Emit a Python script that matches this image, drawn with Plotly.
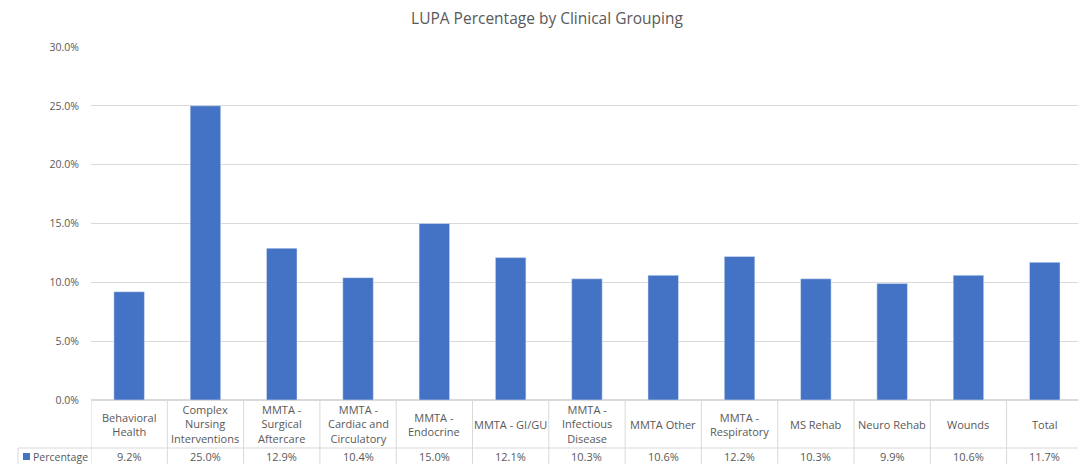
import plotly.graph_objects as go

categories = ["Behavioral Health", "Complex Nursing Interventions", "MMTA - Surgical Aftercare",
              "MMTA - Cardiac and Circulatory", "MMTA - Endocrine", "MMTA - GI/GU",
              "MMTA - Infectious Disease", "MMTA Other", "MMTA - Respiratory", "MS Rehab",
              "Neuro Rehab", "Wounds", "Total"]
table_labels = ["Behavioral<br>Health", "Complex<br>Nursing<br>Interventions", "MMTA -<br>Surgical<br>Aftercare",
                "MMTA -<br>Cardiac and<br>Circulatory", "MMTA -<br>Endocrine", "MMTA - GI/GU",
                "MMTA -<br>Infectious<br>Disease", "MMTA Other", "MMTA -<br>Respiratory", "MS Rehab",
                "Neuro Rehab", "Wounds", "Total"]
percentage = [0.092, 0.250, 0.129, 0.104, 0.150, 0.121, 0.103, 0.106, 0.122, 0.103, 0.099, 0.106, 0.117]
series_name = "Percentage"

W, H = 1078, 464
L, R, T, B = 91, 0, 47, 64
plot_w = W - L - R
plot_h = H - T - B
col_w = 76.3
n = len(categories)

FONT = "Open Sans"
TXT = "#595959"
GRID = "#d9d9d9"
BAR = "#4472C4"

def py(pix):
    # pixel y (from top) -> paper y
    return (H - B - pix) / plot_h

def px(pix):
    return (pix - L) / plot_w

x_idx = list(range(n))

fig = go.Figure(go.Bar(x=x_idx, y=percentage, marker_color=BAR, width=0.4, name=series_name,
                       hovertext=categories))

shapes = []
annotations = []
# vertical table lines
for i in range(n + 1):
    shapes.append(dict(type="line", xref="x", yref="paper", x0=i - 0.5, x1=i - 0.5,
                       y0=py(400), y1=py(470), line=dict(color=GRID, width=1)))
# horizontal table lines
shapes.append(dict(type="line", xref="paper", yref="paper", x0=px(18), x1=1.0,
                   y0=py(448), y1=py(448), line=dict(color=GRID, width=1)))
shapes.append(dict(type="line", xref="paper", yref="paper", x0=px(18), x1=px(18),
                   y0=py(448), y1=py(470), line=dict(color=GRID, width=1)))
# legend key
shapes.append(dict(type="rect", xref="paper", yref="paper", x0=px(23), x1=px(30),
                   y0=py(453), y1=py(460), fillcolor=BAR, line=dict(width=0)))
annotations.append(dict(xref="paper", yref="paper", x=px(31), y=py(456.5), text=series_name,
                        showarrow=False, xanchor="left", yanchor="middle",
                        font=dict(family=FONT, size=10.5, color=TXT)))

for i, (lab, v) in enumerate(zip(table_labels, percentage)):
    annotations.append(dict(xref="x", yref="paper", x=i, y=py(424), text=lab, showarrow=False,
                            xanchor="center", yanchor="middle",
                            font=dict(family=FONT, size=11, color=TXT)))
    annotations.append(dict(xref="x", yref="paper", x=i, y=py(456.5), text=f"{v*100:.1f}%",
                            showarrow=False, xanchor="center", yanchor="middle",
                            font=dict(family=FONT, size=11, color=TXT)))

fig.update_layout(
    width=W, height=H, autosize=False,
    margin=dict(l=L, r=R, t=T, b=B, pad=0),
    plot_bgcolor="white", paper_bgcolor="white",
    title=dict(text="LUPA Percentage by Clinical Grouping", x=547 / W, xref="container",
               xanchor="center", y=1 - 19 / H, yref="container", yanchor="middle",
               font=dict(family=FONT, size=15.5, color=TXT)),
    showlegend=False,
    shapes=shapes,
    annotations=annotations,
    xaxis=dict(range=[-0.5, -0.5 + plot_w / col_w], showticklabels=False, showgrid=False,
               zeroline=False, showline=False, ticks=""),
    yaxis=dict(range=[0, 0.30], dtick=0.05, tickformat=".1%", showgrid=True, gridcolor=GRID,
               zeroline=True, zerolinecolor=GRID, showline=False, ticks="",
               ticklabelstandoff=11, tickfont=dict(family=FONT, size=10.5, color=TXT)),
)

fig.write_html("out.html", config={"displayModeBar": False},
               post_script="document.body.style.margin='0';document.body.style.overflow='hidden';")
